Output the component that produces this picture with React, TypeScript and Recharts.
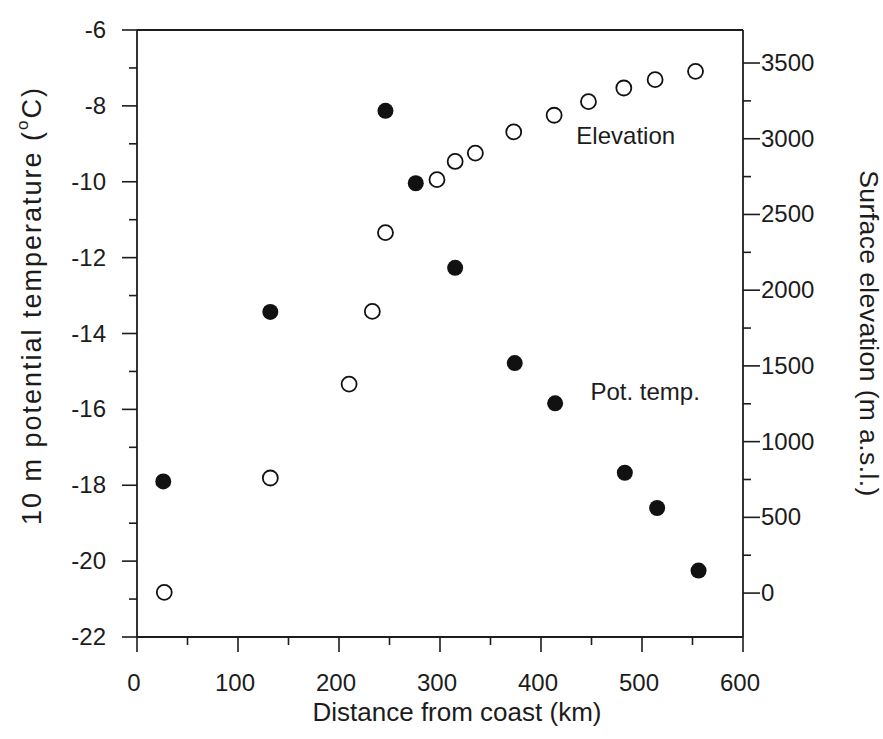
import React from 'react';
import {
  ScatterChart,
  Scatter,
  XAxis,
  YAxis,
  ReferenceDot,
} from 'recharts';

// ---------------------------------------------------------------------------
// Data
// ---------------------------------------------------------------------------

const potDistance = [26, 132, 246, 276, 315, 374, 414, 483, 515, 556];
const potTemp = [-17.9, -13.43, -8.13, -10.04, -12.27, -14.78, -15.84, -17.67, -18.6, -20.25];

const elevDistance = [27, 132, 210, 233, 246, 297, 315, 335, 373, 413, 447, 482, 513, 553];
const elevHeight = [5, 760, 1380, 1860, 2380, 2730, 2850, 2905, 3045, 3155, 3245, 3335, 3390, 3445];

const distanceTicks = [0, 50, 100, 150, 200, 250, 300, 350, 400, 450, 500, 550, 600];
const tempTicks = [-22, -21, -20, -19, -18, -17, -16, -15, -14, -13, -12, -11, -10, -9, -8, -7, -6];
const elevTicks = [0, 250, 500, 750, 1000, 1250, 1500, 1750, 2000, 2250, 2500, 2750, 3000, 3250, 3500];

const potData = potDistance.map((x, i) => ({ x, y: potTemp[i] }));
const elevData = elevDistance.map((x, i) => ({ x, y: elevHeight[i] }));

// ---------------------------------------------------------------------------
// Styling helpers
// ---------------------------------------------------------------------------

const FONT = '"Liberation Sans", Arial, Helvetica, sans-serif';
const INK = '#1c1c1c';
const MAJOR = 15;
const MINOR = 8;

const BottomTick = ({ x, y, payload }: any) => {
  const major = payload.value % 100 === 0;
  return (
    <g>
      <line x1={x} y1={y} x2={x} y2={y + (major ? MAJOR : MINOR)} stroke={INK} strokeWidth={1.6} />
      {major && (
        <text x={x - 3} y={y + 54} textAnchor="middle" fontSize={24} fontFamily={FONT} fill={INK}>
          {payload.value}
        </text>
      )}
    </g>
  );
};

const TopTick = ({ x, y, payload }: any) => {
  const major = payload.value % 100 === 0;
  return <line x1={x} y1={y} x2={x} y2={y - (major ? MAJOR + 2 : MINOR)} stroke={INK} strokeWidth={1.6} />;
};

const LeftTick = ({ x, y, payload }: any) => {
  const major = payload.value % 2 === 0;
  return (
    <g>
      <line x1={x} y1={y} x2={x - (major ? MAJOR : MINOR)} y2={y} stroke={INK} strokeWidth={1.6} />
      {major && (
        <text x={x - 31} y={y + 8} textAnchor="end" fontSize={24} fontFamily={FONT} fill={INK}>
          {payload.value}
        </text>
      )}
    </g>
  );
};

const RightTick = ({ x, y, payload }: any) => {
  const major = payload.value % 500 === 0;
  return (
    <g>
      <line x1={x} y1={y} x2={x + (major ? MAJOR + 2 : MINOR)} y2={y} stroke={INK} strokeWidth={1.6} />
      {major && (
        <text x={x + 18} y={y + 8} textAnchor="start" fontSize={24} fontFamily={FONT} fill={INK}>
          {payload.value}
        </text>
      )}
    </g>
  );
};

const FilledDot = ({ cx, cy }: any) => <circle cx={cx} cy={cy} r={8} fill="#111" />;
const OpenDot = ({ cx, cy }: any) => (
  <circle cx={cx} cy={cy} r={7.5} fill="#fff" stroke="#111" strokeWidth={1.8} />
);

const XTitle = ({ viewBox }: any) => (
  <text
    x={viewBox.x + viewBox.width / 2 + 17}
    y={viewBox.y + 84}
    textAnchor="middle"
    fontSize={26}
    fontFamily={FONT}
    fill={INK}
  >
    Distance from coast (km)
  </text>
);

const LeftTitle = ({ viewBox }: any) => {
  const cx = viewBox.x - 45;
  const cy = viewBox.y + viewBox.height / 2 - 28;
  return (
    <text
      x={cx}
      y={cy}
      transform={`rotate(-90 ${cx} ${cy})`}
      textAnchor="middle"
      dominantBaseline="central"
      fontSize={27}
      letterSpacing={2}
      fontFamily={FONT}
      fill={INK}
    >
      10 m potential temperature (
      <tspan fontSize={17} dy={-10}>o</tspan>
      <tspan dy={10}>C)</tspan>
    </text>
  );
};

const RightTitle = ({ viewBox }: any) => {
  const cx = viewBox.x + viewBox.width + 66;
  const cy = viewBox.y + viewBox.height / 2;
  return (
    <text
      x={cx}
      y={cy}
      transform={`rotate(90 ${cx} ${cy})`}
      textAnchor="middle"
      dominantBaseline="central"
      fontSize={26.5}
      letterSpacing={0.4}
      fontFamily={FONT}
      fill={INK}
    >
      Surface elevation (m a.s.l.)
    </text>
  );
};

// ---------------------------------------------------------------------------
// Chart
// ---------------------------------------------------------------------------

export default function App() {
  return (
    <div style={{ position: 'absolute', left: 0, top: 0, width: 883, height: 739, background: '#fff' }}>
      <ScatterChart width={883} height={739} margin={{ top: 10, right: 80, bottom: 52, left: 77 }}>
        <XAxis
          xAxisId="b"
          type="number"
          dataKey="x"
          domain={[0, 600]}
          ticks={distanceTicks}
          interval={0}
          height={50}
          tickSize={0}
          tickMargin={0}
          tickLine={false}
          axisLine={{ stroke: INK, strokeWidth: 1.8 }}
          tick={<BottomTick />}
          label={<XTitle />}
        />
        <XAxis
          xAxisId="t"
          orientation="top"
          type="number"
          dataKey="x"
          domain={[0, 600]}
          ticks={distanceTicks}
          interval={0}
          height={20}
          tickSize={0}
          tickMargin={0}
          tickLine={false}
          axisLine={{ stroke: INK, strokeWidth: 1.8 }}
          tick={<TopTick />}
        />
        <YAxis
          yAxisId="l"
          type="number"
          dataKey="y"
          domain={[-22, -6]}
          ticks={tempTicks}
          interval={0}
          width={60}
          tickSize={0}
          tickMargin={0}
          tickLine={false}
          axisLine={{ stroke: INK, strokeWidth: 1.8 }}
          tick={<LeftTick />}
          label={<LeftTitle />}
        />
        <YAxis
          yAxisId="r"
          orientation="right"
          type="number"
          dataKey="y"
          domain={[-290, 3718]}
          allowDataOverflow
          ticks={elevTicks}
          interval={0}
          width={60}
          tickSize={0}
          tickMargin={0}
          tickLine={false}
          axisLine={{ stroke: INK, strokeWidth: 1.8 }}
          tick={<RightTick />}
          label={<RightTitle />}
        />
        <Scatter
          data={elevData}
          xAxisId="b"
          yAxisId="r"
          shape={<OpenDot />}
          isAnimationActive={false}
        />
        <Scatter
          data={potData}
          xAxisId="b"
          yAxisId="l"
          shape={<FilledDot />}
          isAnimationActive={false}
        />
        <ReferenceDot
          xAxisId="b"
          yAxisId="l"
          x={435}
          y={-8.79}
          r={0}
          ifOverflow="visible"
          label={{ value: 'Elevation', position: 'right', offset: 0, fontSize: 24, fontFamily: FONT, fill: INK }}
        />
        <ReferenceDot
          xAxisId="b"
          yAxisId="l"
          x={449}
          y={-15.54}
          r={0}
          ifOverflow="visible"
          label={{ value: 'Pot. temp.', position: 'right', offset: 0, fontSize: 24, fontFamily: FONT, fill: INK }}
        />
      </ScatterChart>
    </div>
  );
}
